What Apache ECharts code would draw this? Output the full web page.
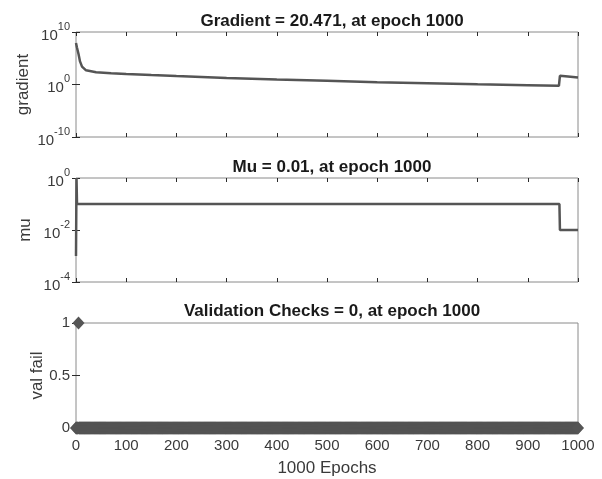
<!DOCTYPE html>
<html>
<head>
<meta charset="utf-8">
<script src="https://cdn.jsdelivr.net/npm/echarts@6/dist/echarts.min.js"></script>
<style>
  html, body { margin: 0; padding: 0; background: #fff; }
  #chart { width: 602px; height: 479px; }
</style>
</head>
<body>
<div id="chart"></div>
<script>
// Training state: gradient, mu and validation checks per epoch
const epochTicks = [0, 100, 200, 300, 400, 500, 600, 700, 800, 900, 1000];

// gradient samples [epoch, gradient]
const gradientEpochs = [0, 2, 5, 8, 12, 20, 40, 70, 100, 150, 200, 300, 400, 500, 600, 700, 800, 900, 962, 964, 980, 1000];
const gradientValues = [8e7, 1e7, 6.3e5, 2.5e4, 2500, 500, 220, 140, 100, 63, 40, 18, 9, 5, 2.8, 1.8, 1.1, 0.76, 0.56, 45, 32, 20.471];

// mu samples [epoch, mu]
const muEpochs = [0, 1, 2, 963, 964, 1000];
const muValues = [0.001, 1, 0.1, 0.1, 0.01, 0.01];

// validation failure runs: [firstEpoch, lastEpoch, value]
const valFailRuns = [[0, 4, 0], [5, 5, 1], [6, 1000, 0]];

// y tick values per panel
const gradientTicks = [1e-10, 1, 1e10];
const muTicks = [1e-4, 1e-2, 1];
const valFailTicks = [0, 0.5, 1];

const titles = [
  'Gradient = 20.471, at epoch 1000',
  'Mu = 0.01, at epoch 1000',
  'Validation Checks = 0, at epoch 1000'
];
const yNames = ['gradient', 'mu', 'val fail'];
const xName = '1000 Epochs';

const FONT = '"Liberation Sans", Arial, sans-serif';
const LINE = '#555555';
const TEXT = '#3a3a3a';
const BOX = '#8a8a8a';
const TICK = '#2a2a2a';

const pairs = (xs, ys) => xs.map((x, i) => [x, ys[i]]);
const valFail = [];
valFailRuns.forEach(([a, b, v]) => { for (let e = a; e <= b; e++) valFail.push([e, v]); });

const grids = [
  { left: 76, right: 24, top: 32, height: 105 },
  { left: 76, right: 24, top: 178, height: 104 },
  { left: 76, right: 24, top: 323, height: 105 }
].map(g => Object.assign(g, { show: true, borderColor: BOX, borderWidth: 1, backgroundColor: '#fff' }));

const powLabel = v => {
  const e = Math.round(Math.log10(v));
  return '{b|10}{s|' + e + '}';
};
const powRich = {
  b: { fontSize: 15, fontFamily: FONT, color: TEXT, lineHeight: 22, verticalAlign: 'bottom' },
  s: { fontSize: 11, fontFamily: FONT, color: TEXT, lineHeight: 22, verticalAlign: 'top' }
};

const tickStyle = { show: true, inside: true, length: 4, lineStyle: { color: TICK, width: 1 } };
const logTickOpts = ticks => ({
  min: ticks[0], max: ticks[ticks.length - 1],
  interval: Math.log10(ticks[1] / ticks[0])
});

const xAxes = [];
for (let i = 0; i < 3; i++) {
  xAxes.push({
    type: 'value', gridIndex: i, min: epochTicks[0], max: epochTicks[epochTicks.length - 1],
    interval: epochTicks[1] - epochTicks[0], position: 'bottom',
    axisLine: { show: false }, axisTick: tickStyle, splitLine: { show: false },
    axisLabel: { show: i === 2, fontSize: 15, fontFamily: FONT, color: TEXT, margin: 10, formatter: v => String(v) },
    name: i === 2 ? xName : '', nameLocation: 'middle', nameGap: 32, nameMoveOverlap: false,
    nameTextStyle: { fontSize: 17, fontFamily: FONT, color: TEXT }
  });
}
for (let i = 0; i < 3; i++) {
  xAxes.push({
    type: 'value', gridIndex: i, min: epochTicks[0], max: epochTicks[epochTicks.length - 1],
    interval: epochTicks[1] - epochTicks[0], position: 'top',
    axisLine: { show: false }, axisTick: tickStyle, axisLabel: { show: false }, splitLine: { show: false }
  });
}

const nameStyle = { fontSize: 17, fontFamily: FONT, color: TEXT };
const logAxis = (gridIndex, ticks, extra) => Object.assign({
  type: 'log', logBase: 10, gridIndex,
  axisLine: { show: false }, axisTick: tickStyle, splitLine: { show: false }, minorTick: { show: false }
}, logTickOpts(ticks), extra);

const yAxes = [
  logAxis(0, gradientTicks, {
    axisLabel: { formatter: powLabel, rich: powRich, margin: 6 },
    name: yNames[0], nameLocation: 'middle', nameGap: 44, nameMoveOverlap: false, nameTextStyle: nameStyle
  }),
  logAxis(1, muTicks, {
    axisLabel: { formatter: powLabel, rich: powRich, margin: 6 },
    name: yNames[1], nameLocation: 'middle', nameGap: 42, nameMoveOverlap: false, nameTextStyle: nameStyle
  }),
  {
    type: 'value', gridIndex: 2, min: valFailTicks[0], max: valFailTicks[2], interval: valFailTicks[1] - valFailTicks[0],
    axisLine: { show: false }, axisTick: tickStyle, splitLine: { show: false },
    axisLabel: { fontSize: 15, fontFamily: FONT, color: TEXT, margin: 6 },
    name: yNames[2], nameLocation: 'middle', nameGap: 30, nameMoveOverlap: false, nameTextStyle: nameStyle
  },
  logAxis(0, gradientTicks, { position: 'right', axisLabel: { show: false } }),
  logAxis(1, muTicks, { position: 'right', axisLabel: { show: false } }),
  {
    type: 'value', gridIndex: 2, min: valFailTicks[0], max: valFailTicks[2], interval: valFailTicks[1] - valFailTicks[0],
    position: 'right',
    axisLine: { show: false }, axisTick: tickStyle, axisLabel: { show: false }, splitLine: { show: false }
  }
];

const titleTops = [8, 154, 298];
const chart = echarts.init(document.getElementById('chart'), null, { renderer: 'canvas' });
chart.setOption({
  animation: false,
  backgroundColor: '#ffffff',
  title: titles.map((t, i) => ({
    text: t, left: 327, top: titleTops[i], textAlign: 'center',
    textStyle: { fontSize: 17, fontWeight: 'bold', fontFamily: FONT, color: '#1a1a1a' }
  })),
  grid: grids,
  xAxis: xAxes,
  yAxis: yAxes,
  series: [
    {
      type: 'line', xAxisIndex: 0, yAxisIndex: 0, data: pairs(gradientEpochs, gradientValues),
      showSymbol: false, lineStyle: { color: LINE, width: 2.5 }, clip: true
    },
    {
      type: 'line', xAxisIndex: 1, yAxisIndex: 1, data: pairs(muEpochs, muValues),
      showSymbol: false, lineStyle: { color: LINE, width: 2.5 }, clip: false
    },
    {
      type: 'scatter', xAxisIndex: 2, yAxisIndex: 2, data: valFail,
      symbol: 'diamond', symbolSize: [12, 13], itemStyle: { color: LINE, opacity: 1 },
      clip: false, large: false
    }
  ]
});
</script>
</body>
</html>
